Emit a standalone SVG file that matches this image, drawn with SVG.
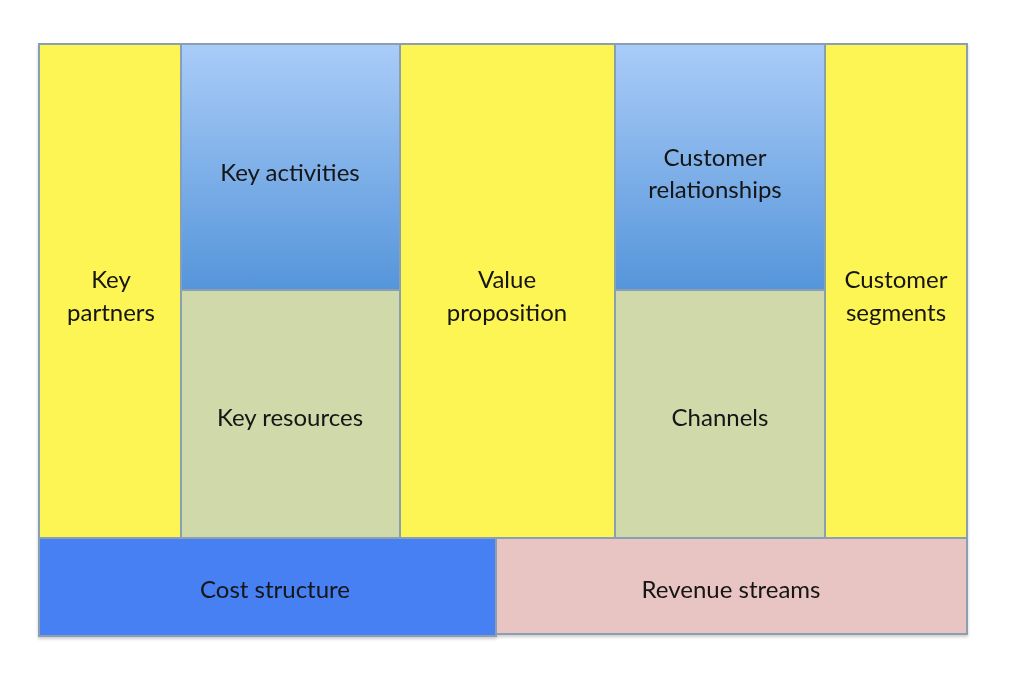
<svg xmlns="http://www.w3.org/2000/svg" width="1024" height="684" viewBox="0 0 1024 684">
<defs>
<linearGradient id="bg" x1="0" y1="0" x2="0" y2="1">
<stop offset="0" stop-color="#AACCF8"/>
<stop offset="1" stop-color="#5595DA"/>
</linearGradient>
<filter id="sh" x="-5%" y="-5%" width="110%" height="110%">
<feDropShadow dx="0" dy="2" stdDeviation="1.5" flood-color="#000" flood-opacity="0.2"/>
</filter>
</defs>
<style>
.b{stroke:#8AA0B2;stroke-width:2}
.y{fill:#FDF552}
.g{fill:#CFD9AA}
.bl{fill:url(#bg)}
.c{fill:#4680F2}
.r{fill:#E8C4C2}
text{font-family:Lato,"Open Sans",sans-serif;font-size:24px;fill:#141414;text-anchor:middle}
</style>
<rect width="1024" height="684" fill="#fff"/>
<g filter="url(#sh)">
<g id="key-partners"><rect class="b y" x="39" y="44" width="142" height="494"/><text x="111" y="288">Key</text><text x="111" y="321">partners</text></g>
<g id="key-activities"><rect class="b bl" x="181" y="44" width="219" height="246"/><text x="290" y="181">Key activities</text></g>
<g id="key-resources"><rect class="b g" x="181" y="290" width="219" height="248"/><text x="290" y="426">Key resources</text></g>
<g id="value-proposition"><rect class="b y" x="400" y="44" width="215" height="494"/><text x="507" y="288">Value</text><text x="507" y="321">proposition</text></g>
<g id="customer-relationships"><rect class="b bl" x="615" y="44" width="210" height="246"/><text x="715" y="166">Customer</text><text x="715" y="198">relationships</text></g>
<g id="channels"><rect class="b g" x="615" y="290" width="210" height="248"/><text x="720" y="426">Channels</text></g>
<g id="customer-segments"><rect class="b y" x="825" y="44" width="142" height="494"/><text x="896" y="288">Customer</text><text x="896" y="321">segments</text></g>
<g id="cost-structure"><rect class="b c" x="39" y="538" width="457" height="98"/><text x="275" y="598">Cost structure</text></g>
<g id="revenue-streams"><rect class="b r" x="496" y="538" width="471" height="96"/><text x="731" y="598">Revenue streams</text></g>
</g>
</svg>
